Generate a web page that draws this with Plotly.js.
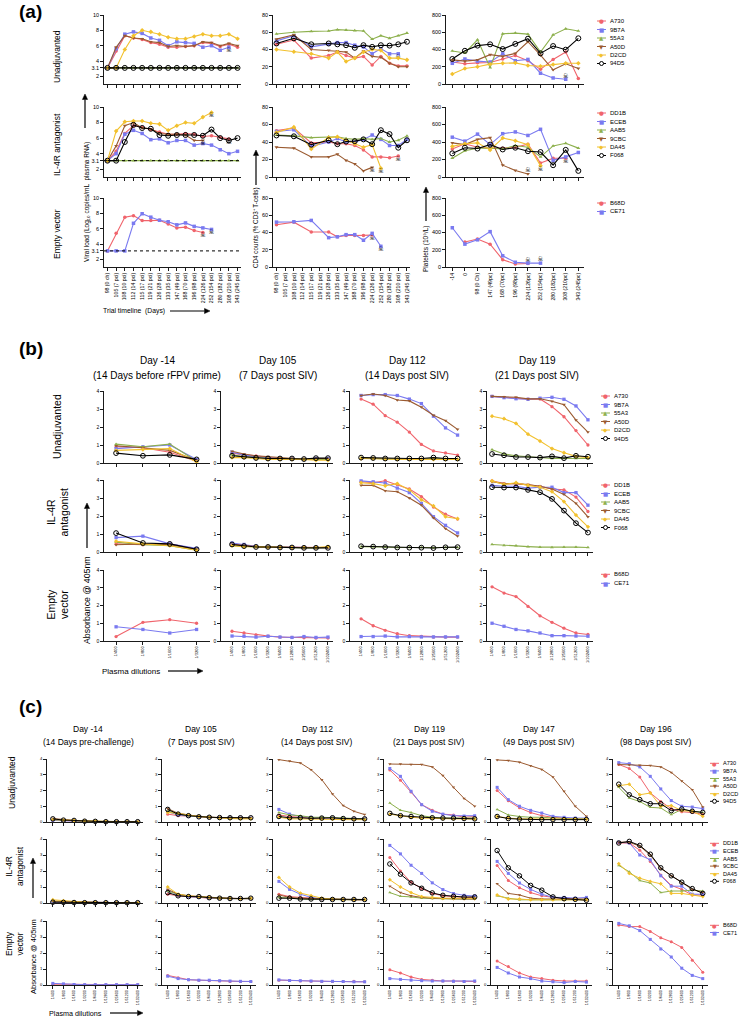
<!DOCTYPE html>
<html><head><meta charset="utf-8">
<script src="https://cdn.plot.ly/plotly-3.0.1.min.js"></script>
<style>html,body{margin:0;padding:0;background:#fff}#chart{width:740px;height:1018px}</style>
</head><body><div id="chart"></div>
<script>
const W = 740, H = 1018;
// ---------- names, colours ----------
const unadjAnimals = ['A730','9B7A','55A3','A50D','D2CD','94D5'];
const il4rAnimals  = ['DD1B','ECEB','AAB5','9CBC','DA45','F068'];
const emptyAnimals = ['B68D','CE71'];
const seriesColors  = ['#f0646c','#7a7af0','#8db04d','#9a5a30','#f2c12e','#000000'];
const seriesSymbols = ['circle','square','triangle-up','triangle-down','diamond','circle-open'];
const legendGlyphs  = ['●','■','▲','▼','◆',null];
const detectionLimit = 3.1;

// ---------- tick labels ----------
const vlDays  = ['98 (0 ch)','105 (7 pci)','108 (10 pci)','112 (14 pci)','115 (17 pci)','119 (21 pci)','126 (28 pci)','133 (35 pci)','147 (49 pci)','168 (70 pci)','196 (98 pci)','224 (126 pci)','252 (154 pci)','280 (182 pci)','308 (210 pci)','343 (245 pci)'];
const cd4Days = ['98 (0 ch)','105 (7 pci)','108 (10 pci)','112 (14 pci)','115 (17 pci)','119 (21 pci)','126 (28 pci)','133 (35 pci)','147 (49 pci)','168 (70 pci)','196 (98 pci)','224 (126 pci)','252 (154 pci)','280 (182 pci)','308 (210 pci)','343 (245 pci)'];
const pltDays = ['-14','0','98 (0 Ch)','147 (49pc)','168 (70pc)','196 (98pc)','224 (126pc)','252 (154pc)','280 (182pc)','308 (210pc)','343 (245pc)'];
const dil4 = ['1/400','1/800','1/1600','1/3200'];
const dil9 = ['1/400','1/800','1/1600','1/3200','1/6400','1/12800','1/25600','1/51200','1/102400'];

// ---------- (a) viral load ----------
const vlUnadj = [
  [3.1,5.3,7.3,7.0,6.8,6.4,6.2,5.8,5.8,5.9,6.0,6.4,6.3,5.9,6.2,5.8],
  [3.1,5.6,7.5,7.8,7.6,7.0,6.7,6.0,6.5,6.4,6.3,5.8,6.0,5.4,5.8],
  [3.1,3.1,3.1,3.1,3.1,3.1,3.1,3.1,3.1,3.1,3.1,3.1,3.1,3.1,3.1,3.1],
  [3.1,5.8,7.3,7.0,6.9,6.5,6.4,5.9,6.0,5.9,6.0,6.5,6.4,6.0,6.3,6.0],
  [3.1,3.1,5.5,7.3,8.0,7.8,7.5,7.1,6.9,6.9,7.2,7.5,7.3,7.3,7.5,6.9],
  [3.1,3.1,3.1,3.1,3.1,3.1,3.1,3.1,3.1,3.1,3.1,3.1,3.1,3.1,3.1,3.1]];
const vlIl4r = [
  [3.1,4.3,6.6,7.6,7.4,7.1,6.8,6.5,6.5,6.6,6.5,6.2,6.3,6.1,5.9],
  [3.1,4.0,6.5,7.0,6.6,5.8,5.9,5.4,5.7,5.7,5.1,5.3,5.1,4.5,4.0,4.3],
  [3.1,3.1,3.1,3.1,3.1,3.1,3.1,3.1,3.1,3.1,3.1,3.1,3.1,3.1,3.1,3.1],
  [3.1,5.0,7.6,8.0,7.3,7.2,6.6,6.5,6.5,6.4,5.7,5.7],
  [3.1,6.9,8.1,8.2,8.2,7.9,7.8,7.0,7.6,8.0,7.9,8.7,9.3],
  [3.1,3.1,5.5,7.7,7.3,7.2,6.4,6.3,6.4,6.4,6.4,6.3,7.1,6.0,5.7,6.0]];
const vlEmpty = [
  [3.1,5.4,7.5,7.7,7.05,7.05,7.1,6.6,6.1,6.2,5.75,5.5],
  [3.1,3.1,3.1,6.7,7.95,7.5,7.1,6.9,6.5,6.75,6.3,6.1,5.9]];
// ---------- (a) CD4 ----------
const cd4Unadj = [
  [46,null,51,null,30,null,33,37,33,30,32,22,32,24,21,21],
  [50,null,56,null,43,null,46,48,48,45,43,35,41,35,35],
  [58,null,60,null,61,null,61.5,63,62.5,62,61.5,52,56,53,56,59],
  [52,null,57,null,40,null,39,38,37,30,38,32,31,24,20,20],
  [40,null,37.5,null,35,null,30,37,26,30,37,40,39,30,30,28],
  [47,null,53,null,46,null,47,46,45,42,45,43,45,44.5,46,49]];
const cd4Il4r = [
  [53,null,56,null,39,null,40,38,38,36,31,23,23,22,24],
  [52,null,54,null,35,null,40,44,40,40,43,48,43,36,36,43],
  [48,null,47,null,45,null,46,46,44,43,44,43,44,40,42,47],
  [34,null,33,null,23,null,23,26,19,15,7,11],
  [51,null,57,null,32,null,45,46,42,38,34,37,10],
  [47.5,null,46.5,null,37,null,42,37.5,40.5,41,43,37.5,53.5,49,33.5,42]];
const cd4Empty = [
  [49,null,52,null,40.5,null,40.5,35,36.5,36.5,36.5,37],
  [52,null,52.5,null,54,null,34,35,37.5,37.5,31,39,24]];
// ---------- (a) platelets ----------
const pltUnadj = [
  [255,235,245,250,290,330,270,170,285,370,65],
  [240,290,265,255,350,270,285,125,70,55],
  [383,360,513,191,582,590,578,370,570,640,615],
  [280,265,280,340,320,355,490,335,165,235,180],
  [115,180,200,230,240,245,215,205,225,240,240],
  [290,385,445,460,405,465,525,355,440,398,530]];
const pltIl4r = [
  [320,380,340,330,330,340,375,160,215,215],
  [455,410,490,370,495,515,475,545,190,230,280],
  [215,300,330,330,320,360,340,230,355,385,330],
  [390,370,430,450,135,75,35],
  [350,380,390,310,445,415,370,130],
  [270,335,325,370,315,335,295,285,135,310,70]];
const pltEmpty = [
  [null,290,325,265,85,35,40],
  [455,265,315,410,130,55,45,45]];

// ---------- (b) ELISA ----------
const bDm14Unadj = [[0.9,0.85,0.6,0.1],[0.8,0.9,1.0,0.2],[1.05,0.9,1.05,0.1],[0.95,0.85,0.7,0.15],[0.7,0.75,0.8,0.05],[0.55,0.4,0.45,0.2]];
const bDm14Il4r  = [[0.45,0.4,0.45,0.15],[0.8,0.88,0.45,0.2],[0.55,0.4,0.35,0.1],[0.4,0.45,0.4,0.15],[0.6,0.45,0.35,0.1],[1.05,0.5,0.45,0.15]];
const bDm14Empty = [[0.25,1.05,1.2,1.0],[0.8,0.65,0.45,0.65]];
const bD105Unadj = [[0.55,0.45,0.4,0.3,0.25,0.25,0.2,0.2,0.2],[0.6,0.45,0.35,0.3,0.25,0.25,0.2,0.25,0.25],[0.45,0.35,0.3,0.25,0.25,0.22,0.2,0.2,0.2],[0.65,0.5,0.4,0.35,0.3,0.25,0.2,0.25,0.25],[0.3,0.3,0.25,0.2,0.2,0.2,0.2,0.15,0.15],[0.4,0.35,0.28,0.25,0.25,0.25,0.22,0.27,0.27]];
const bD105Il4r  = [[0.45,0.38,0.3,0.28,0.27,0.25,0.25,0.25,0.25],[0.5,0.42,0.32,0.3,0.27,0.25,0.25,0.25,0.25],[0.35,0.3,0.28,0.27,0.25,0.25,0.22,0.22,0.25],[0.42,0.35,0.3,0.28,0.26,0.25,0.25,0.25,0.25],[0.35,0.3,0.3,0.27,0.25,0.25,0.25,0.25,0.3],[0.42,0.33,0.28,0.28,0.25,0.25,0.23,0.23,0.23]];
const bD105Empty = [[0.55,0.45,0.35,0.28,0.22,0.2,0.18,0.17,0.17],[0.28,0.27,0.22,0.27,0.22,0.2,0.25,0.2,0.22]];
const bD112Unadj = [[3.55,3.27,2.63,2.27,1.72,1.03,0.67,0.56,0.44],[3.75,3.8,3.8,3.75,3.55,3.3,2.6,1.95,1.55],[0.3,0.25,0.22,0.22,0.2,0.2,0.25,0.2,0.2],[3.75,3.83,3.75,3.5,3.45,3.1,2.65,2.35,1.87],[0.25,0.25,0.22,0.2,0.2,0.2,0.2,0.2,0.2],[0.3,0.28,0.25,0.25,0.25,0.25,0.3,0.25,0.25]];
const bD112Il4r  = [[3.9,3.85,3.96,3.75,3.5,3.08,2.5,2.1,1.83],[3.95,3.9,3.83,3.55,3.3,2.7,1.96,1.48,1.06],[0.3,0.3,0.28,0.25,0.25,0.25,0.22,0.25,0.25],[3.7,3.7,3.4,3.35,3.0,2.6,1.9,1.3,0.88],[3.85,3.8,3.68,3.8,3.45,2.9,2.56,1.96,1.85],[0.32,0.3,0.27,0.25,0.24,0.24,0.22,0.26,0.27]];
const bD112Empty = [[1.25,0.86,0.6,0.41,0.3,0.26,0.22,0.22,0.22],[0.25,0.25,0.28,0.23,0.25,0.23,0.23,0.23,0.23]];
const bD119Unadj = [[3.7,3.65,3.6,3.55,3.56,3.13,2.57,1.8,1.0],[3.7,3.63,3.57,3.54,3.6,3.65,3.54,3.17,2.4],[0.74,0.5,0.4,0.35,0.3,0.25,0.25,0.25,0.25],[3.7,3.67,3.65,3.56,3.57,3.43,3.24,2.38,1.72],[2.6,2.46,2.2,1.6,1.22,0.8,0.57,0.37,0.3],[0.5,0.43,0.33,0.33,0.3,0.37,0.27,0.4,0.35]];
const bD119Il4r  = [[3.95,3.8,3.8,3.72,3.65,3.5,3.45,3.05,2.25],[3.7,3.65,3.65,3.55,3.6,3.6,3.3,3.3,2.6],[0.42,0.37,0.35,0.3,0.27,0.25,0.27,0.27,0.25],[3.9,3.8,3.8,3.75,3.65,3.5,3.2,2.7,1.95],[3.95,3.75,3.85,3.7,3.6,3.35,2.8,2.05,1.4],[3.6,3.58,3.58,3.45,3.32,2.95,2.3,1.6,1.08]];
const bD119Empty = [[3.05,2.7,2.5,1.95,1.42,1.05,0.72,0.45,0.37],[1.0,0.83,0.65,0.57,0.45,0.3,0.3,0.28,0.27]];

// ---------- (c) ELISA ----------
const cDm14Unadj = [[0.12,0.08,0.06,0.04,0.03,0.02,0.02,0.02,0.02],[0.1,0.07,0.05,0.04,0.03,0.02,0.02,0.02,0.02],[0.15,0.1,0.08,0.05,0.04,0.02,0.02,0.02,0.02],[0.22,0.15,0.1,0.06,0.04,0.03,0.02,0.02,0.02],[0.15,0.12,0.1,0.07,0.05,0.03,0.02,0.02,0.02],[0.2,0.12,0.1,0.05,0.04,0.02,0.02,0.02,0.02]];
const cDm14Il4r  = [[0.08,0.05,0.04,0.03,0.02,0.02,0.02,0.02,0.02],[0.06,0.05,0.04,0.03,0.02,0.02,0.02,0.02,0.02],[0.1,0.08,0.05,0.03,0.02,0.02,0.02,0.02,0.02],[0.12,0.1,0.06,0.04,0.03,0.02,0.02,0.02,0.02],[0.2,0.15,0.08,0.05,0.03,0.02,0.02,0.02,0.02],[0.05,0.04,0.03,0.02,0.02,0.02,0.02,0.02,0.02]];
const cDm14Empty = [[0.05,0.04,0.03,0.02,0.02,0.02,0.02,0.02,0.02],[0.1,0.07,0.03,0.02,0.02,0.02,0.02,0.02,0.02]];
const cD105Unadj = [[0.5,0.4,0.38,0.33,0.3,0.27,0.25,0.25,0.25],[0.65,0.45,0.37,0.33,0.3,0.27,0.27,0.25,0.25],[0.7,0.5,0.4,0.33,0.3,0.28,0.27,0.25,0.25],[0.85,0.55,0.45,0.35,0.3,0.28,0.27,0.25,0.25],[0.6,0.55,0.45,0.35,0.3,0.25,0.22,0.2,0.2],[0.8,0.5,0.4,0.33,0.3,0.28,0.27,0.27,0.27]];
const cD105Il4r  = [[0.55,0.45,0.4,0.35,0.3,0.3,0.28,0.27,0.27],[0.8,0.5,0.4,0.35,0.3,0.28,0.27,0.27,0.27],[0.75,0.55,0.42,0.38,0.32,0.3,0.28,0.27,0.27],[0.85,0.55,0.45,0.4,0.35,0.3,0.28,0.27,0.28],[1.0,0.55,0.45,0.38,0.35,0.3,0.28,0.27,0.3],[0.65,0.45,0.4,0.4,0.33,0.3,0.28,0.28,0.3]];
const cD105Empty = [[0.6,0.45,0.33,0.3,0.27,0.25,0.22,0.22,0.22],[0.55,0.4,0.33,0.3,0.3,0.27,0.25,0.23,0.22]];
const cD112Unadj = [[0.45,0.35,0.3,0.25,0.25,0.25,0.2,0.2,0.2],[0.8,0.5,0.35,0.3,0.25,0.25,0.22,0.2,0.2],[0.6,0.45,0.4,0.3,0.3,0.28,0.25,0.2,0.2],[3.96,3.87,3.75,3.32,2.69,1.78,1.04,0.68,0.47],[0.3,0.2,0.2,0.18,0.18,0.18,0.15,0.15,0.15],[0.35,0.27,0.27,0.23,0.25,0.27,0.22,0.2,0.2]];
const cD112Il4r  = [[0.55,0.4,0.35,0.3,0.25,0.22,0.22,0.2,0.2],[1.35,0.85,0.55,0.35,0.25,0.25,0.22,0.22,0.2],[0.35,0.3,0.25,0.22,0.22,0.2,0.2,0.2,0.2],[0.5,0.35,0.3,0.27,0.25,0.22,0.22,0.2,0.2],[1.6,1.0,0.62,0.45,0.3,0.25,0.22,0.22,0.22],[0.3,0.3,0.25,0.25,0.22,0.22,0.22,0.22,0.22]];
const cD112Empty = [[0.3,0.28,0.25,0.23,0.22,0.22,0.22,0.23,0.2],[0.32,0.28,0.27,0.25,0.23,0.23,0.22,0.2,0.2]];
const cD119Unadj = [[3.3,2.65,1.9,1.1,0.75,0.5,0.45,0.3,0.35],[3.4,2.9,1.95,1.1,0.68,0.5,0.4,0.38,0.4],[1.2,0.75,0.6,0.4,0.3,0.25,0.25,0.25,0.25],[3.68,3.68,3.65,3.65,3.5,2.95,2.2,1.5,1.0],[0.5,0.4,0.3,0.25,0.22,0.2,0.2,0.2,0.18],[0.55,0.4,0.35,0.3,0.27,0.25,0.25,0.22,0.2]];
const cD119Il4r  = [[2.85,2.0,1.3,0.9,0.6,0.45,0.4,0.35,0.35],[3.6,3.07,2.36,1.85,1.26,0.84,0.59,0.48,0.44],[0.65,0.42,0.38,0.3,0.28,0.25,0.25,0.25,0.25],[1.05,0.65,0.45,0.35,0.3,0.27,0.25,0.25,0.25],[1.45,1.0,0.65,0.4,0.35,0.3,0.3,0.28,0.28],[2.44,1.8,1.26,0.92,0.63,0.48,0.42,0.37,0.38]];
const cD119Empty = [[0.95,0.75,0.5,0.35,0.3,0.25,0.25,0.22,0.22],[0.4,0.35,0.3,0.27,0.25,0.25,0.23,0.22,0.25]];
const cD147Unadj = [[2.0,1.35,0.9,0.6,0.4,0.3,0.25,0.2,0.2],[2.2,1.42,1.0,0.74,0.57,0.36,0.3,0.25,0.25],[0.8,0.45,0.35,0.3,0.3,0.25,0.22,0.2,0.2],[3.94,3.9,3.8,3.57,3.34,2.86,1.95,1.0,0.36],[0.35,0.25,0.2,0.2,0.2,0.18,0.18,0.18,0.18],[0.35,0.22,0.18,0.15,0.15,0.15,0.15,0.15,0.15]];
const cD147Il4r  = [[2.35,1.4,0.95,0.65,0.45,0.35,0.3,0.25,0.2],[2.6,1.85,1.25,0.85,0.55,0.35,0.35,0.3,0.35],[0.45,0.3,0.2,0.22,0.2,0.2,0.2,0.2,0.22],[1.2,0.6,0.5,0.3,0.25,0.25,0.25,0.25,0.25],[0.5,0.25,0.25,0.2,0.2,0.2,0.2,0.2,0.2],[3.28,2.2,1.7,1.1,0.8,0.38,0.27,0.23,0.17]];
const cD147Empty = [[1.5,1.15,0.75,0.5,0.4,0.3,0.25,0.25,0.25],[1.1,0.75,0.5,0.4,0.25,0.2,0.15,0.22,0.18]];
const cD196Unadj = [[3.65,3.4,2.85,1.85,1.3,0.85,0.65,0.6,0.5],[3.77,3.7,3.5,2.9,2.1,1.36,1.0,0.95,0.85],[2.2,1.52,1.3,0.93,0.89,0.47,0.8,0.68,0.6],[3.65,3.62,3.6,3.58,3.5,3.15,2.6,2.05,0.95],[2.3,2.4,1.73,1.84,1.0,1.04,0.72,0.68,0.36],[2.4,1.73,1.42,1.16,1.16,0.72,0.83,0.68,0.61]];
const cD196Il4r  = [[3.75,3.75,3.3,2.6,1.75,1.1,0.85,0.5,0.5],[3.8,3.75,3.0,2.7,1.7,1.05,1.05,0.55,0.55],[2.35,1.95,1.4,1.25,0.65,0.75,0.75,0.8,0.75],[3.8,3.8,3.55,3.0,2.15,1.7,1.25,0.85,0.65],[2.45,1.85,1.55,1.35,1.2,0.6,0.6,0.5,0.4],[3.75,3.85,3.6,3.05,2.2,1.7,1.3,0.9,0.6]];
const cD196Empty = [[3.75,3.65,3.65,3.35,2.95,2.7,2.35,1.55,0.8],[3.85,3.7,3.4,2.85,2.25,1.75,1.05,0.6,0.4]];

const bTitles = [['Day -14','(14 Days before rFPV prime)'],['Day 105','(7 Days post SIV)'],['Day 112','(14 Days post SIV)'],['Day 119','(21 Days post SIV)']];
const cTitles = [['Day -14','(14 Days pre-challenge)'],['Day 105','(7 Days post SIV)'],['Day 112','(14 Days post SIV)'],['Day 119','(21 Days post SIV)'],['Day 147','(49 Days post SIV)'],['Day 196','(98 Days post SIV)']];

// ---------- builder ----------
const FONT = 'Liberation Sans, Arial, sans-serif';
const layout = {width:W, height:H, margin:{l:0,r:0,t:0,b:0}, paper_bgcolor:'#fff', plot_bgcolor:'rgba(0,0,0,0)',
  showlegend:false, font:{family:FONT, color:'#000'}, shapes:[], annotations:[]};
const traces = [];
let axN = 0;
const axCommon = {showline:true, linecolor:'#1a1a1a', linewidth:1.3, ticks:'outside', ticklen:2.5, tickwidth:1,
  tickcolor:'#1a1a1a', showgrid:false, zeroline:false, fixedrange:true, automargin:false};

function addSubplot(o){
  axN++;
  const s = axN === 1 ? '' : String(axN);
  const xr = 'x'+s, yr = 'y'+s;
  layout['xaxis'+s] = Object.assign({}, axCommon, {domain:[o.xPx[0]/W, o.xPx[1]/W], anchor:yr, type:'category',
    categoryorder:'array', categoryarray:o.cats, range:o.xRange, tickmode:'array', tickvals:o.cats, ticktext:o.cats,
    showticklabels:o.showX, tickangle:-90, tickfont:{size:o.xFont, family:FONT}});
  layout['yaxis'+s] = Object.assign({}, axCommon, {domain:[1-o.yPx[1]/H, 1-o.yPx[0]/H], anchor:xr, range:o.yRange,
    tickmode:'array', tickvals:o.yTicks, ticktext:o.yTicks.map(String), tickfont:{size:o.yFont, family:FONT}});
  return {xr, yr, cats:o.cats, yRange:o.yRange};
}

function addSeries(ax, data, opt){
  data.forEach((vals, i) => {
    const c = seriesColors[i], sym = seriesSymbols[i];
    const open = sym === 'circle-open';
    traces.push({type:'scatter', mode:'lines+markers', x:ax.cats.slice(0, vals.length), y:vals,
      xaxis:ax.xr, yaxis:ax.yr, connectgaps:true, cliponaxis:false, hoverinfo:'skip',
      line:{color:c, width:opt.lw},
      marker:{symbol:sym, size: open ? opt.ms + 1.5 : opt.ms, color:c, line:{color:c, width: open ? 1 : 0}}});
    if (opt.skulls && vals.length < ax.cats.length) {
      const last = vals.length - 1, v = vals[last];
      const frac = (v - ax.yRange[0]) / (ax.yRange[1] - ax.yRange[0]);
      traces.push({type:'scatter', mode:'text', x:[ax.cats[last]], y:[v], xaxis:ax.xr, yaxis:ax.yr,
        text:['☠'], textposition: frac < 0.1 ? 'top center' : 'bottom center', cliponaxis:false, hoverinfo:'skip',
        textfont:{size:6.5, color:'#000', family:'DejaVu Sans'}});
    }
  });
}

function addText(text, xPx, yPx, size, opts){
  layout.annotations.push(Object.assign({text, x:xPx/W, y:1-yPx/H, xref:'paper', yref:'paper', showarrow:false,
    font:{size, family:FONT, color:'#000'}, xanchor:'center', yanchor:'middle'}, opts || {}));
}
// arrow from tail (x1,y1) to head (x2,y2), pixel coordinates, drawn as shapes
function addArrow(x1, y1, x2, y2){
  const dx = x2 - x1, dy = y2 - y1, L = Math.hypot(dx, dy), ux = dx/L, uy = dy/L;
  const hl = 5.5, hw = 2.6;
  const bx = x2 - ux*hl, by = y2 - uy*hl;
  const P = (x, y) => (x/W).toFixed(5) + ',' + (1 - y/H).toFixed(5);
  layout.shapes.push({type:'line', xref:'paper', yref:'paper', x0:x1/W, y0:1-y1/H, x1:bx/W, y1:1-by/H,
    line:{color:'#000', width:1.2}});
  layout.shapes.push({type:'path', xref:'paper', yref:'paper',
    path:'M' + P(x2, y2) + ' L' + P(bx - uy*hw, by + ux*hw) + ' L' + P(bx + uy*hw, by - ux*hw) + ' Z',
    fillcolor:'#000', line:{color:'#000', width:0.5}});
}
function addLegend(names, lineX0, yTop, dy, fs){
  names.forEach((n, i) => {
    const y = yTop + i*dy, c = seriesColors[i], cx = lineX0 + 4.5;
    layout.shapes.push({type:'line', xref:'paper', yref:'paper', x0:lineX0/W, x1:(lineX0+9)/W, y0:1-y/H, y1:1-y/H,
      line:{color:c, width:1}});
    if (legendGlyphs[i]) {
      addText(legendGlyphs[i], cx, y+0.3, fs-0.5, {font:{size:fs-0.5, color:c, family:'DejaVu Sans'}});
    } else {
      const rr = 2;
      layout.shapes.push({type:'circle', xref:'paper', yref:'paper', x0:(cx-rr)/W, x1:(cx+rr)/W,
        y0:1-(y+rr)/H, y1:1-(y-rr)/H, fillcolor:'#fff', line:{color:c, width:1}});
    }
    addText(n, lineX0+11, y, fs, {xanchor:'left'});
  });
}
const bold = (t, x, y, s) => addText(t, x, y, s, {font:{size:s, family:FONT, color:'#000', weight:'bold'}});

// ---------- panel (a) ----------
const aCols = [[104,241],[273,410],[446,584]];
const aRows = [[15,84],[107,177],[198,267]];
const aGroups = [[vlUnadj, cd4Unadj, pltUnadj],[vlIl4r, cd4Il4r, pltIl4r],[vlEmpty, cd4Empty, pltEmpty]];
const aSpecs = [
  {cats:vlDays, xRange:[-0.4,15.4], yRange:[1,10], yTicks:[2,3.1,4,6,8,10]},
  {cats:cd4Days, xRange:[-0.4,15.35], yRange:[0,80], yTicks:[0,20,40,60,80]},
  {cats:pltDays, xRange:[-0.5,10.45], yRange:[0,800], yTicks:[0,200,400,600,800]}];
aRows.forEach((rp, r) => {
  aCols.forEach((cp, c) => {
    const sp = aSpecs[c];
    const ax = addSubplot({xPx:cp, yPx:rp, cats:sp.cats, xRange:sp.xRange, yRange:sp.yRange, yTicks:sp.yTicks,
      showX: r === 2, xFont:5.2, yFont:5.5});
    if (c === 0) {
      layout.shapes.push({type:'line', xref:ax.xr+' domain', yref:ax.yr, x0:0, x1:1, y0:detectionLimit, y1:detectionLimit,
        line:{color:'#000', width:1, dash:'dot'}});
    }
    addSeries(ax, aGroups[r][c], {lw:1.1, ms:3.5, skulls:true});
  });
});
bold('(a)', 30, 12, 19);
addText('Unadjuvanted', 57, 57, 8.5, {textangle:-90});
addText('IL-4R antagonist', 57, 145, 8.5, {textangle:-90});
addText('Empty vector', 57, 234, 8.5, {textangle:-90});
addText('Viral load (Log₁₀ copies/mL  plasma RNA)', 87, 202, 6.5, {textangle:-90});
addText('CD4 counts (% CD3⁺ T-cells)', 256, 228, 6.3, {textangle:-90});
addText('Platelets (10⁹/L)', 426, 249, 6.5, {textangle:-90});
addText('Trial timeline  (Days)', 134, 311, 6.8);
addArrow(85, 128, 85, 94);
addArrow(256, 185, 256, 150);
addArrow(426, 221, 426, 187);
addArrow(170, 311, 210, 311);
addLegend(unadjAnimals, 597, 21, 8.5, 6);
addLegend(il4rAnimals, 597, 113, 8.5, 6);
addLegend(emptyAnimals, 597, 203, 8.5, 6);

// ---------- panel (b) ----------
const bCols = [[104,210],[221,333],[350,463],[487,593]];
const bRows = [[391,463],[480,552],[570,641]];
const bXR = [[-0.45,3.5],[-0.92,8.42],[-0.92,8.45],[-0.42,8.42]];
const bData = [[bDm14Unadj,bD105Unadj,bD112Unadj,bD119Unadj],[bDm14Il4r,bD105Il4r,bD112Il4r,bD119Il4r],[bDm14Empty,bD105Empty,bD112Empty,bD119Empty]];
bRows.forEach((rp, r) => {
  bCols.forEach((cp, c) => {
    const ax = addSubplot({xPx:cp, yPx:rp, cats: c === 0 ? dil4 : dil9, xRange:bXR[c], yRange:[0,4], yTicks:[0,1,2,3,4],
      showX: r === 2, xFont:4, yFont:5});
    addSeries(ax, bData[r][c], {lw:1.1, ms:3.3, skulls:false});
  });
});
const bCenters = [157, 278, 407, 537];
bTitles.forEach((t, i) => { addText(t[0], bCenters[i], 360, 10); addText(t[1], bCenters[i], 375, 10); });
bold('(b)', 31, 349, 19);
addText('Unadjuvanted', 57, 427, 10.5, {textangle:-90});
addText('IL-4R<br>antagonist', 57.5, 512, 10.5, {textangle:-90});
addText('Empty<br>vector', 57.5, 604, 10.5, {textangle:-90});
addText('Absorbance @ 405nm', 87, 600, 8.8, {textangle:-90});
addText('Plasma dilutions', 131, 671, 8);
addArrow(87, 548, 87, 503);
addArrow(168, 671, 203, 671);
addLegend(unadjAnimals, 601, 396, 8.5, 6);
addLegend(il4rAnimals, 601, 485, 8.5, 6);
addLegend(emptyAnimals, 601, 574.3, 9, 6);

// ---------- panel (c) ----------
const cCols = [[47,143],[162,256],[273,370],[384,480],[491,592],[613,708]];
const cRows = [[759,822],[839,903],[921,985]];
const cData = [[cDm14Unadj,cD105Unadj,cD112Unadj,cD119Unadj,cD147Unadj,cD196Unadj],
               [cDm14Il4r,cD105Il4r,cD112Il4r,cD119Il4r,cD147Il4r,cD196Il4r],
               [cDm14Empty,cD105Empty,cD112Empty,cD119Empty,cD147Empty,cD196Empty]];
cRows.forEach((rp, r) => {
  cCols.forEach((cp, c) => {
    const ax = addSubplot({xPx:cp, yPx:rp, cats:dil9, xRange:[-0.55,8.5], yRange:[0,4], yTicks:[0,1,2,3,4],
      showX: r === 2, xFont:3.6, yFont:4.2});
    addSeries(ax, cData[r][c], {lw:1, ms:3, skulls:false});
  });
});
const cCenters = [88, 201, 317, 429, 539, 656];
cTitles.forEach((t, i) => { addText(t[0], cCenters[i], 729, 8.5); addText(t[1], cCenters[i], 742, 8.5); });
bold('(c)', 30, 706, 19);
addText('Unadjuvanted', 12, 783, 8.5, {textangle:-90});
addText('IL-4R<br>antagonist', 14, 866, 8.5, {textangle:-90});
addText('Empty<br>vector', 14, 944, 8.5, {textangle:-90});
addText('Absorbance @ 405nm', 33, 957, 7.5, {textangle:-90});
addText('Plasma dilutions', 75, 1013, 7.2);
addArrow(33, 898, 33, 858);
addArrow(110, 1013, 143, 1013);
addLegend(unadjAnimals, 710, 763.3, 7.6, 5.6);
addLegend(il4rAnimals, 710, 843.3, 7.6, 5.6);
addLegend(emptyAnimals, 710, 925.3, 7.2, 5.6);

Plotly.newPlot('chart', traces, layout, {staticPlot:true, displayModeBar:false});
</script>
</body></html>
